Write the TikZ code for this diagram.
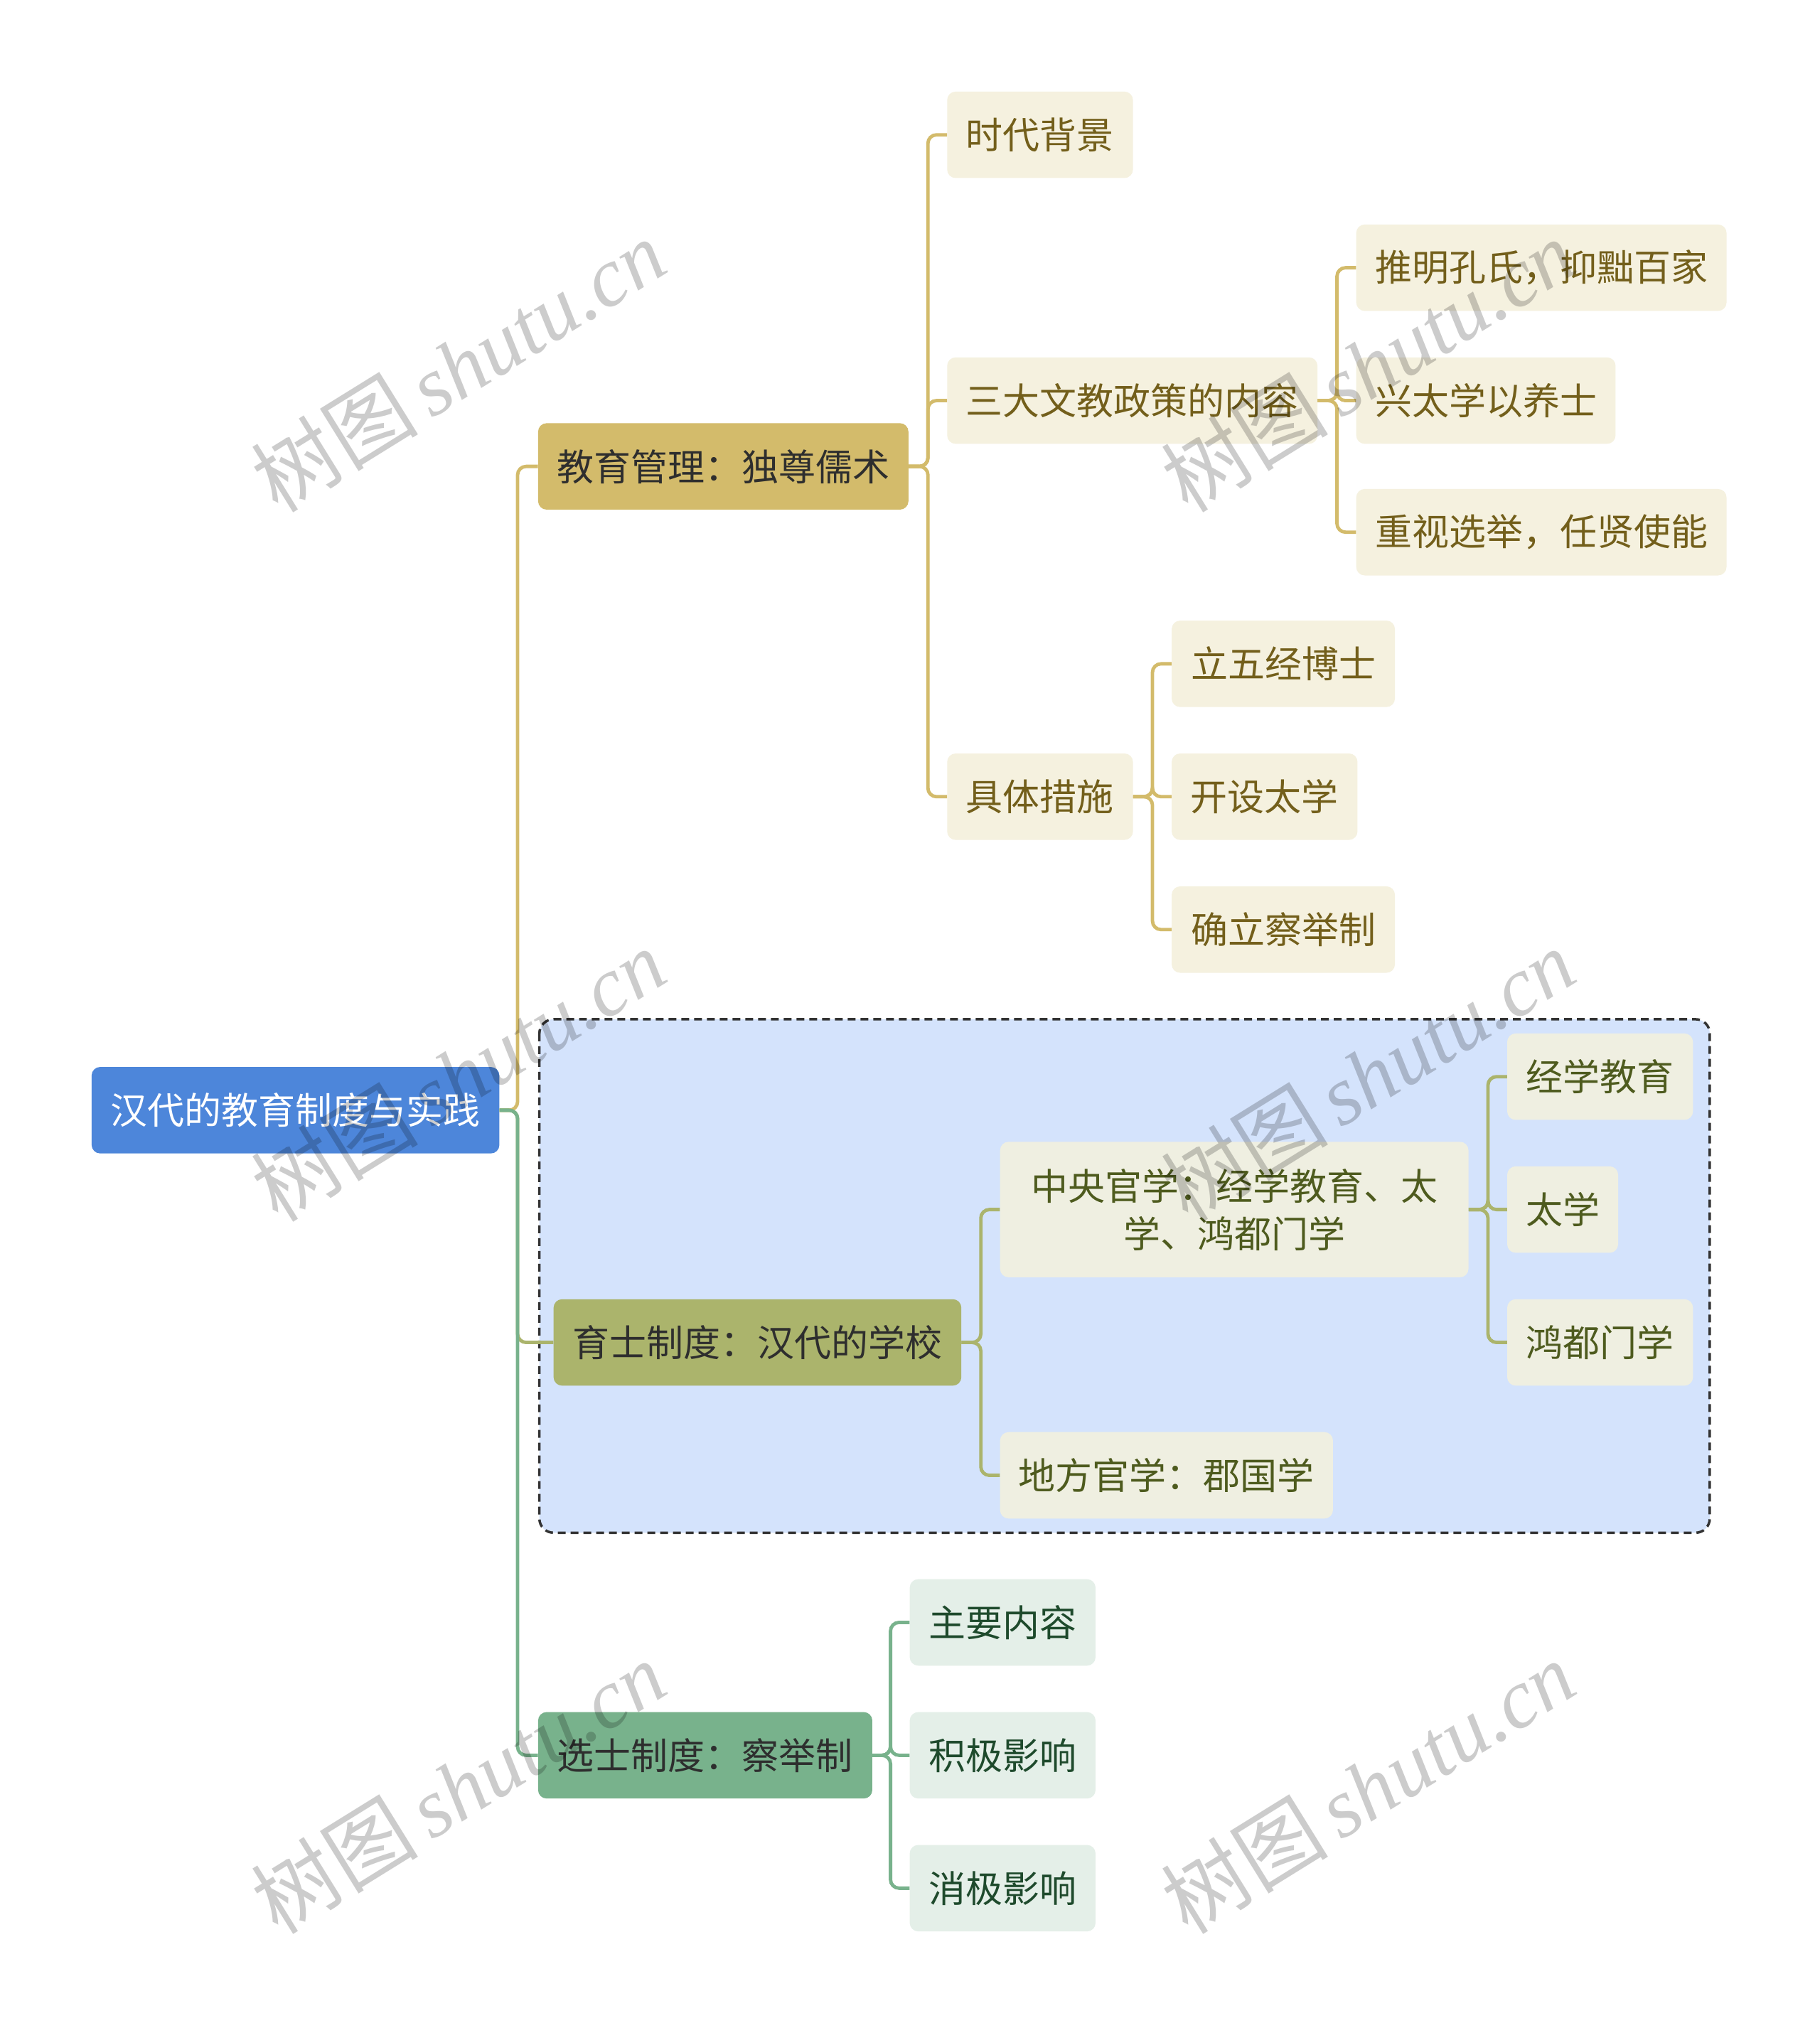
\documentclass[tikz,border=0pt]{standalone}
\usepackage{fontspec}
\setmainfont{Noto Sans CJK SC}
\newfontfamily\wmlatin{Liberation Serif}
\usetikzlibrary{fit}
\definecolor{rootfill}{HTML}{4D86DA}
\definecolor{Afill}{HTML}{D3BB6B}
\definecolor{Bfill}{HTML}{ABB46C}
\definecolor{Cfill}{HTML}{78B28C}
\definecolor{Achild}{HTML}{F5F1DF}
\definecolor{Bchild}{HTML}{EFEFE1}
\definecolor{Cchild}{HTML}{E4EFE8}
\definecolor{Atext}{HTML}{735F1B}
\definecolor{Btext}{HTML}{4E5B1E}
\definecolor{Ctext}{HTML}{1E4A2C}
\definecolor{darktext}{HTML}{2E2E2E}
\definecolor{groupfill}{HTML}{D4E3FC}
\definecolor{groupline}{HTML}{333333}
\newcommand\bxnode[8]{\node[#1, fit={(#3,#4) (#5,#6)}, inner sep=0pt, label={[#7]center:{#8}}] (#2) {};}
\begin{document}
\begin{tikzpicture}[x=1.8156pt,y=-1.8156pt,
  boxbase/.style={rectangle, rounded corners=12pt},
  rootbox/.style={boxbase, fill=rootfill},
  Abox/.style={boxbase, fill=Afill},
  Bbox/.style={boxbase, fill=Bfill},
  Cbox/.style={boxbase, fill=Cfill},
  Acbox/.style={boxbase, fill=Achild},
  Bcbox/.style={boxbase, fill=Bchild},
  Ccbox/.style={boxbase, fill=Cchild},
  txtbase/.style={inner sep=0pt, font=\fontsize{52pt}{67pt}\selectfont, align=center},
  roottxt/.style={txtbase, text=white},
  ltxt/.style={txtbase, text=darktext},
  Atxt/.style={txtbase, text=Atext},
  Btxt/.style={txtbase, text=Btext},
  Ctxt/.style={txtbase, text=Ctext},
  linkA/.style={draw=Afill, line width=4.8pt, rounded corners=12pt},
  linkB/.style={draw=Bfill, line width=4.8pt, rounded corners=12pt},
  linkC/.style={draw=Cfill, line width=4.8pt, rounded corners=12pt},
  wmark/.style={text=black, opacity=0.2, rotate=31.8, inner sep=0pt, font=\fontsize{118pt}{130pt}\selectfont}
]
\useasboundingbox (0,0) rectangle (1410,1568);
\fill[white] (0,0) rectangle (1410,1568);

% group box
\path[fill=groupfill, draw=groupline, line width=3.5pt, dash pattern=on 11pt off 7pt, rounded corners=20pt]
  (418,790) rectangle (1325,1188);

% root and level 1
\bxnode{rootbox}{root}{71}{827}{387}{894}{roottxt}{汉代的教育制度与实践}
\bxnode{Abox}{A}{417}{328}{704}{395}{ltxt}{教育管理：独尊儒术}
\bxnode{Bbox}{B}{429}{1007}{745}{1074}{ltxt}{育士制度：汉代的学校}
\bxnode{Cbox}{C}{417}{1327}{676}{1394}{ltxt}{选士制度：察举制}

% A children
\bxnode{Acbox}{a1}{734}{71}{878}{138}{Atxt}{时代背景}
\bxnode{Acbox}{a2}{734}{277}{1021}{344}{Atxt}{三大文教政策的内容}
\bxnode{Acbox}{a3}{734}{584}{878}{651}{Atxt}{具体措施}
\bxnode{Acbox}{a21}{1051}{174}{1338}{241}{Atxt}{推明孔氏，抑黜百家}
\bxnode{Acbox}{a22}{1051}{277}{1252}{344}{Atxt}{兴太学以养士}
\bxnode{Acbox}{a23}{1051}{379}{1338}{446}{Atxt}{重视选举，任贤使能}
\bxnode{Acbox}{a31}{908}{481}{1081}{548}{Atxt}{立五经博士}
\bxnode{Acbox}{a32}{908}{584}{1052}{651}{Atxt}{开设太学}
\bxnode{Acbox}{a33}{908}{687}{1081}{754}{Atxt}{确立察举制}

% B children
\bxnode{Bcbox}{b1}{775}{885}{1138}{990}{Btxt}{中央官学：经学教育、太\\学、鸿都门学}
\bxnode{Bcbox}{b2}{775}{1110}{1033}{1177}{Btxt}{地方官学：郡国学}
\bxnode{Bcbox}{b11}{1168}{801}{1312}{868}{Btxt}{经学教育}
\bxnode{Bcbox}{b12}{1168}{904}{1254}{971}{Btxt}{太学}
\bxnode{Bcbox}{b13}{1168}{1007}{1312}{1074}{Btxt}{鸿都门学}

% C children
\bxnode{Ccbox}{c1}{705}{1224}{849}{1291}{Ctxt}{主要内容}
\bxnode{Ccbox}{c2}{705}{1327}{849}{1394}{Ctxt}{积极影响}
\bxnode{Ccbox}{c3}{705}{1430}{849}{1497}{Ctxt}{消极影响}

% connectors
\draw[linkA] (root.east) -- ++(14,0) |- (A.west);
\draw[linkB] (root.east) -- ++(14,0) |- (B.west);
\draw[linkC] (root.east) -- ++(14,0) |- (C.west);

\foreach \t in {a1,a2,a3} \draw[linkA] (A.east) -- ++(15,0) |- (\t.west);
\foreach \t in {a21,a22,a23} \draw[linkA] (a2.east) -- ++(15,0) |- (\t.west);
\foreach \t in {a31,a32,a33} \draw[linkA] (a3.east) -- ++(15,0) |- (\t.west);
\foreach \t in {b1,b2} \draw[linkB] (B.east) -- ++(15,0) |- (\t.west);
\foreach \t in {b11,b12,b13} \draw[linkB] (b1.east) -- ++(15,0) |- (\t.west);
\foreach \t in {c1,c2,c3} \draw[linkC] (C.east) -- ++(14,0) |- (\t.west);

% watermarks
\foreach \wx/\wy [count=\i] in {355/283, 355/833, 355/1385, 1060/283, 1060/833, 1060/1385}
  \node[wmark] (wm\i) at (\wx,\wy) {树图\hspace{0.15em}{\wmlatin\itshape shutu.cn}};
\end{tikzpicture}
\end{document}
